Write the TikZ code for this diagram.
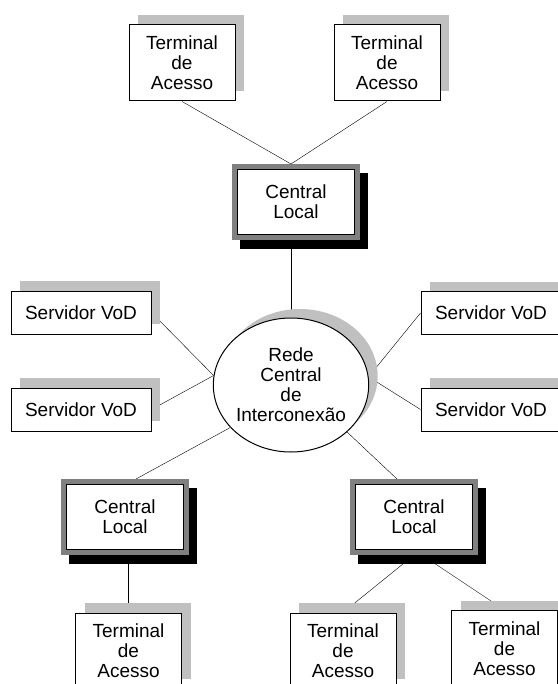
\documentclass[tikz,border=0pt]{standalone}
\usepackage{fontspec}
\setmainfont{Liberation Sans}
\usetikzlibrary{shapes.geometric,shadows,backgrounds}
\definecolor{shadowgray}{RGB}{192,192,192}
\definecolor{framegray}{RGB}{128,128,128}
\begin{document}
\begin{tikzpicture}[x=1pt,y=-1pt,
				every node/.style={font=\fontsize{19}{20}\selectfont,align=center,inner sep=0pt},
				terminal/.style={draw,fill=white,line width=1pt,minimum width=106pt,minimum height=76pt,
					drop shadow={shadow xshift=9pt,shadow yshift=10pt,fill=shadowgray,opacity=1}},
				servidor/.style={terminal,minimum width=140pt,minimum height=43pt},
				central/.style={draw,fill=white,line width=1pt,minimum width=117pt,minimum height=65pt,outer sep=5.5pt,
					drop shadow={shadow xshift=8pt,shadow yshift=-9pt,fill=black,draw=black,line width=11pt,opacity=1},
					preaction={draw=framegray,line width=11pt}},
				rede/.style={ellipse,draw,fill=white,line width=1pt,minimum width=152pt,minimum height=134pt,
					drop shadow={shadow xshift=9pt,shadow yshift=9pt,fill=shadowgray,opacity=1}}]
\useasboundingbox (0,0) rectangle (557,684);
\node[terminal] (ta1) at (182,63) {Terminal\\de\\Acesso};
\node[terminal] (ta2) at (387,63) {Terminal\\de\\Acesso};
\node[central] (cl1) at (296,202) {Central\\Local};
\node[rede] (rede) at (291,385) {Rede\\Central\\de\\Interconexão};
\node[servidor] (sv1) at (81,312.5) {Servidor VoD};
\node[servidor] (sv2) at (81,409.5) {Servidor VoD};
\node[servidor] (sv3) at (491,313) {Servidor VoD};
\node[servidor] (sv4) at (491,409.5) {Servidor VoD};
\node[central] (cl2) at (125,517) {Central\\Local};
\node[central] (cl3) at (414,517) {Central\\Local};
\node[terminal] (tl1) at (128.5,651) {Terminal\\de\\Acesso};
\node[terminal] (tl2) at (343,651) {Terminal\\de\\Acesso};
\node[terminal] (tl3) at (504.5,648.5) {Terminal\\de\\Acesso};
\begin{scope}[on background layer,line width=0.7pt]
	\draw (ta1.south) -- (cl1.north -| rede.north);
	\draw (ta2.south) -- (cl1.north -| rede.north);
	\draw (cl1.south -| rede.north) -- (rede.north);
	\draw (sv1.east) -- (rede.173);
	\draw (sv2.east) -- (rede.173);
	\draw (sv3.west) -- (rede.6);
	\draw (sv4.west) -- (rede.6);
	\draw (rede.215) -- ([xshift=11pt]cl2.north);
	\draw (rede.320) -- ([xshift=-17pt]cl3.north);
	\draw (cl2.south -| tl1.north) -- (tl1.north);
	\draw (cl3.south) -- (tl2.north);
	\draw ([xshift=8pt]cl3.south) -- (tl3.north);
\end{scope}
\end{tikzpicture}
\end{document}
